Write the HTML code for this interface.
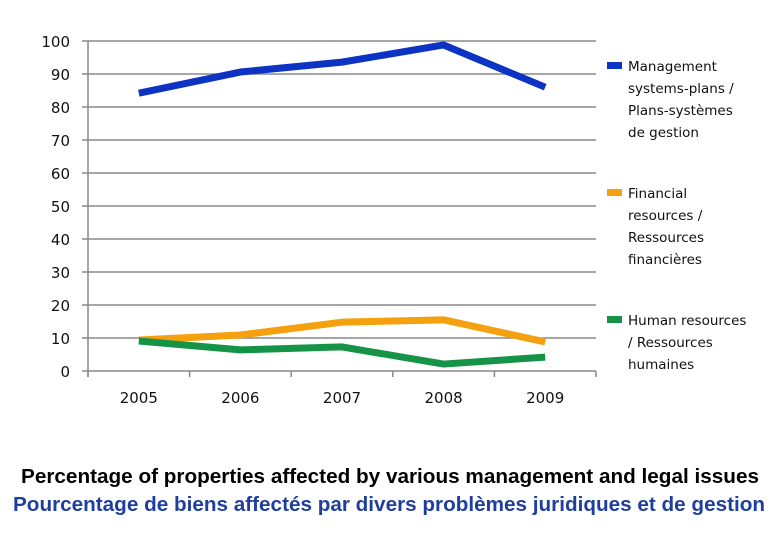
<!DOCTYPE html>
<html><head><meta charset="utf-8"><style>
body{margin:0;background:#fff;font-family:"Liberation Sans","DejaVu Sans",sans-serif}
svg{display:block}
</style></head><body>
<svg id="c" width="780" height="540" xmlns="http://www.w3.org/2000/svg"></svg>
<script>
const categories=["2005","2006","2007","2008","2009"];
const yTicks=[0,10,20,30,40,50,60,70,80,90,100];
const management=[84.2,90.6,93.6,98.8,86];
const financial=[9.4,10.9,14.8,15.5,8.8];
const human=[9.1,6.4,7.3,2.1,4.2];
const seriesNames=[["Management","systems-plans /","Plans-systèmes","de gestion"],["Financial","resources /","Ressources","financières"],["Human resources","/ Ressources","humaines"]];
const svg=document.getElementById('c');
const NS="http://www.w3.org/2000/svg";
const x0=88,x1=596,y0=371,y1=41;
const step=(x1-x0)/categories.length;
const DJ='"DejaVu Sans",sans-serif';
function xs(i){return x0+step*(i+0.5);}
function ys(v){return y0-(v/100)*(y0-y1);}
function mk(t,a,txt){const e=document.createElementNS(NS,t);for(const k in a)e.setAttribute(k,a[k]);if(txt!==undefined)e.textContent=txt;svg.appendChild(e);return e;}
yTicks.forEach(v=>{
 const g=mk('line',{x1:x0-6,x2:x1,y1:ys(v),y2:ys(v),stroke:'#888','stroke-width':1.5});
 
 
 const t=mk('text',{x:70,y:ys(v)+6,'text-anchor':'end','font-size':15,'font-family':DJ,fill:'#111'},v);
 
 
});
const ax=mk('line',{x1:x0,x2:x0,y1:y1,y2:y0+6,stroke:'#888','stroke-width':1.5});


for(let i=0;i<=categories.length;i++){
 const tk=mk('line',{x1:x0+step*i,x2:x0+step*i,y1:y0,y2:y0+6,stroke:'#888','stroke-width':1.5});
 
 
}
categories.forEach((c,i)=>{
 const t=mk('text',{x:xs(i),y:403,'text-anchor':'middle','font-size':15,'font-family':DJ,fill:'#111'},c);
 
 
});
const series=[[management,'#0c33c4'],[financial,'#f5a00f'],[human,'#159447']];
const keys=['management','financial','human'];
[1,2,0].forEach(si=>{
 const [d,col]=series[si];
 const p=mk('polyline',{points:d.map((v,i)=>xs(i)+','+ys(v)).join(' '),fill:'none',stroke:col,'stroke-width':7,'stroke-linejoin':'round'});
 
 
});
const legY=[66,193,320];
seriesNames.forEach((lines,si)=>{
 const r=mk('rect',{x:607,y:legY[si]-4,width:15,height:7,fill:series[si][1]});
 
 
 lines.forEach((l,j)=>{
  const t=mk('text',{x:628,y:legY[si]+5+j*22,'font-size':13.5,'font-family':DJ,fill:'#111'},l);
  
  
 });
});
const t1=mk('text',{x:390,y:483,'text-anchor':'middle','font-size':20.5,'font-weight':'bold',fill:'#000',textLength:738,lengthAdjust:'spacingAndGlyphs'},'Percentage of properties affected by various management and legal issues');


const t2=mk('text',{x:389,y:511,'text-anchor':'middle','font-size':20.5,'font-weight':'bold',fill:'#1f3f9e',textLength:752,lengthAdjust:'spacingAndGlyphs'},'Pourcentage de biens affectés par divers problèmes juridiques et de gestion');


</script>
</body></html>
